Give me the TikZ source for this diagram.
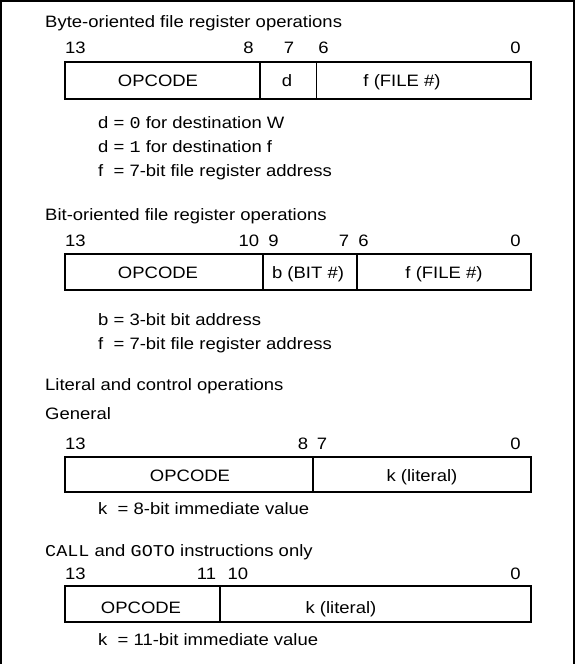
\documentclass[tikz,border=0pt]{standalone}
\usepackage{fontspec}
\setmainfont[FakeStretch=1.12]{Liberation Sans}
\newfontfamily\codefont[FakeStretch=1.12]{Liberation Mono}

\begin{document}
\begin{tikzpicture}[x=1pt, y=-1pt, font=\fontsize{16.5}{19}\selectfont]
    \tikzset{regbox/.style={draw=black, line width=1.8pt}}
    \tikzset{heading/.style={anchor=base west, inner sep=0pt}}
    \tikzset{note/.style={anchor=base west, inner sep=0pt}}
    \tikzset{bitno/.style={anchor=base, inner sep=0pt}}
    \tikzset{fieldtext/.style={anchor=base, inner sep=0pt}}

    % page and frame
    \useasboundingbox (0,0) rectangle (575,664);
    \draw[line width=2pt] (1,664) -- (1,1) -- (574,1) -- (574,664);

    % byte-oriented
    \node[heading] (byte title) at (45,27) {Byte-oriented file register operations};
    \node[bitno] (byte bit13) at (75.5,53) {13};
    \node[bitno] (byte bit8)  at (248.5,53) {8};
    \node[bitno] (byte bit7)  at (289,53) {7};
    \node[bitno] (byte bit6)  at (323.5,53) {6};
    \node[bitno] (byte bit0)  at (515.5,53) {0};
    \coordinate (byte nw) at (65,62);
    \coordinate (byte se) at (531,99);
    \draw[regbox] (byte nw) rectangle (byte se);
    \draw[regbox] (260,62) -- (260,99);
    \draw[regbox] (316.5,62) -- (316.5,99);
    \node[fieldtext] (byte opcode) at (158,86) {OPCODE};
    \node[fieldtext] (byte d)      at (287,86) {d};
    \node[fieldtext] (byte file)   at (402,86) {f (FILE \#)};
    \node[note] (byte note1) at (98,128) {d = {\codefont 0} for destination W};
    \node[note] (byte note2) at (98,152) {d = {\codefont 1} for destination f};
    \node[note] (byte note3) at (98,176) {f\ \ = 7-bit file register address};

    % bit-oriented
    \node[heading] (bit title) at (45,220) {Bit-oriented file register operations};
    \node[bitno] (bit bit13) at (75.5,246) {13};
    \node[bitno] (bit bit10) at (249,246) {10};
    \node[bitno] (bit bit9)  at (273.5,246) {9};
    \node[bitno] (bit bit7)  at (344,246) {7};
    \node[bitno] (bit bit6)  at (363.5,246) {6};
    \node[bitno] (bit bit0)  at (515.5,246) {0};
    \coordinate (bit nw) at (65,254);
    \coordinate (bit se) at (531,290);
    \draw[regbox] (bit nw) rectangle (bit se);
    \draw[regbox] (263,254) -- (263,290);
    \draw[regbox] (357,254) -- (357,290);
    \node[fieldtext] (bit opcode) at (158,278) {OPCODE};
    \node[fieldtext] (bit b)      at (308,278) {b (BIT \#)};
    \node[fieldtext] (bit file)   at (444,278) {f (FILE \#)};
    \node[note] (bit note1) at (98,325) {b = 3-bit bit address};
    \node[note] (bit note2) at (98,349) {f\ \ = 7-bit file register address};

    % literal and control, general
    \node[heading] (lit title) at (45,390) {Literal and control operations};
    \node[heading] (gen title) at (45,419) {General};
    \node[bitno] (gen bit13) at (75.5,449) {13};
    \node[bitno] (gen bit8)  at (303,449) {8};
    \node[bitno] (gen bit7)  at (322,449) {7};
    \node[bitno] (gen bit0)  at (515.5,449) {0};
    \coordinate (gen nw) at (65,457);
    \coordinate (gen se) at (531,492);
    \draw[regbox] (gen nw) rectangle (gen se);
    \draw[regbox] (313,457) -- (313,492);
    \node[fieldtext] (gen opcode) at (190,481) {OPCODE};
    \node[fieldtext] (gen k)      at (422,481) {k (literal)};
    \node[note] (gen note) at (98,514) {k\ \ = 8-bit immediate value};

    % call and goto
    \node[heading] (jump title) at (45,556) {{\codefont CALL} and {\codefont GOTO} instructions only};
    \node[bitno] (jump bit13) at (75.5,579) {13};
    \node[bitno] (jump bit11) at (206.5,579) {11};
    \node[bitno] (jump bit10) at (238,579) {10};
    \node[bitno] (jump bit0)  at (515.5,579) {0};
    \coordinate (jump nw) at (65,586);
    \coordinate (jump se) at (531,622);
    \draw[regbox] (jump nw) rectangle (jump se);
    \draw[regbox] (220,586) -- (220,622);
    \node[fieldtext] (jump opcode) at (141,613) {OPCODE};
    \node[fieldtext] (jump k)      at (341,613) {k (literal)};
    \node[note] (jump note) at (98,645) {k\ \ = 11-bit immediate value};

\end{tikzpicture}
\end{document}
